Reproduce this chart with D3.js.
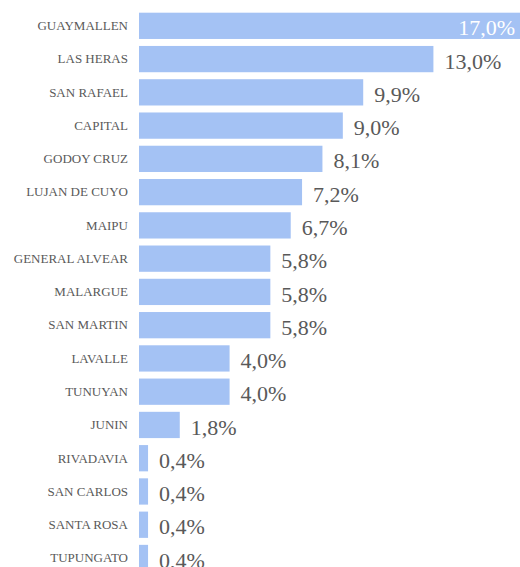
<!DOCTYPE html>
<html>
<head>
<meta charset="utf-8">
<script src="https://cdn.jsdelivr.net/npm/d3@7"></script>
<style>
  html, body { margin: 0; padding: 0; background: #fff; overflow: hidden; }
  svg { display: block; }
</style>
</head>
<body>
<div id="chart"></div>
<script>
// departamentos and share (%)
const categories = [
    'GUAYMALLEN', 'LAS HERAS', 'SAN RAFAEL', 'CAPITAL', 'GODOY CRUZ',
    'LUJAN DE CUYO', 'MAIPU', 'GENERAL ALVEAR', 'MALARGUE', 'SAN MARTIN',
    'LAVALLE', 'TUNUYAN', 'JUNIN', 'RIVADAVIA', 'SAN CARLOS',
    'SANTA ROSA', 'TUPUNGATO'
];
const values = [17.0, 13.0, 9.9, 9.0, 8.1, 7.2, 6.7, 5.8, 5.8, 5.8, 4.0, 4.0, 1.8, 0.4, 0.4, 0.4, 0.4];
const valueLabels = ['17,0%', '13,0%', '9,9%', '9,0%', '8,1%', '7,2%', '6,7%', '5,8%', '5,8%', '5,8%',
    '4,0%', '4,0%', '1,8%', '0,4%', '0,4%', '0,4%', '0,4%'];

const width = 520;
const height = 567;
const data = categories.map((c, i) => ({ cat: c, value: values[i], label: valueLabels[i] }));

const svg = d3.select('#chart')
    .append('svg')
    .attr('width', width)
    .attr('height', height);

const xScale = d3.scaleLinear()
    .domain([0, 17])
    .range([139, 524]);

const yScale = d3.scaleBand()
    .domain(categories)
    .range([9.2, 9.2 + 17 * 33.26])
    .paddingInner(0.21)
    .paddingOuter(0.105);

const fontFam = "'Liberation Serif'";

svg.selectAll('.bar')
    .data(data)
    .enter()
    .append('rect')
    .attr('class', 'bar')
    .attr('x', xScale(0))
    .attr('y', d => yScale(d.cat))
    .attr('width', d => xScale(d.value) - xScale(0))
    .attr('height', yScale.bandwidth())
    .attr('fill', '#a4c2f4');

svg.selectAll('.cat-label')
    .data(data)
    .enter()
    .append('text')
    .attr('class', 'cat-label')
    .attr('x', 128)
    .attr('y', d => yScale(d.cat) + yScale.bandwidth() / 2 + 4.3)
    .attr('text-anchor', 'end')
    .style('font-family', fontFam)
    .style('font-size', '13px')
    .attr('fill', '#595959')
    .text(d => d.cat);

// biggest bar gets its label inside, in white
svg.selectAll('.val-label')
    .data(data)
    .enter()
    .append('text')
    .attr('class', 'val-label')
    .attr('x', (d, i) => i === 0 ? xScale(d.value) - 9 : xScale(d.value) + 11)
    .attr('y', d => yScale(d.cat) + yScale.bandwidth() / 2 + 9.6)
    .attr('text-anchor', (d, i) => i === 0 ? 'end' : 'start')
    .style('font-family', fontFam)
    .style('font-size', '22px')
    .attr('fill', (d, i) => i === 0 ? '#ffffff' : '#595959')
    .text(d => d.label);
</script>
</body>
</html>
